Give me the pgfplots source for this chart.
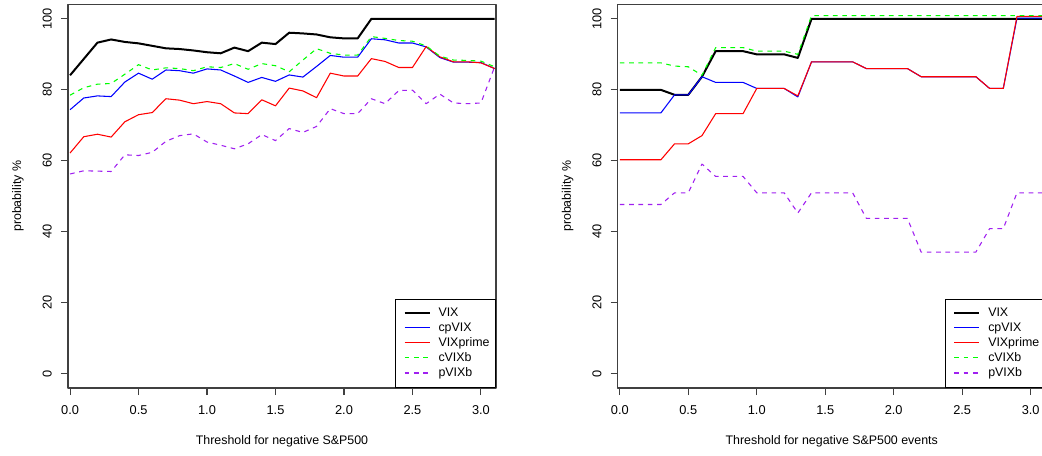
\documentclass[border=0pt]{standalone}
\usepackage{fontspec}
\setmainfont{Liberation Sans}
\usepackage{pgfplots}
\usepackage{pgfplotstable}
\pgfplotsset{compat=1.18}

\definecolor{rgreen}{RGB}{0,255,0}
\definecolor{rpurple}{RGB}{160,32,240}
\newcommand{\rfont}{\fontsize{9.3}{11}\selectfont}
\newcommand{\rtickfont}{\fontsize{9.6}{11}\selectfont}

% threshold, then the five series (probability %)
\pgfplotstableread{
x   VIX   cpVIX VIXprime cVIXb pVIXb
0.0 84.1  74.4  62.2  78.5  56.3
0.1 88.7  77.7  66.8  80.6  57.2
0.2 93.3  78.3  67.5  81.6  57.1
0.3 94.2  78.1  66.7  81.8  57.0
0.4 93.5  82.2  71.0  84.4  61.7
0.5 93.1  84.7  73.0  87.1  61.5
0.6 92.4  83.0  73.6  85.6  62.4
0.7 91.7  85.6  77.5  86.2  65.5
0.8 91.5  85.4  77.1  86.0  67.1
0.9 91.1  84.7  76.1  85.4  67.6
1.0 90.6  85.9  76.7  86.5  65.3
1.1 90.3  85.6  76.1  86.3  64.4
1.2 91.9  83.9  73.5  87.4  63.4
1.3 90.9  82.1  73.3  85.8  64.8
1.4 93.3  83.5  77.2  87.4  67.4
1.5 92.9  82.4  75.5  86.8  65.7
1.6 96.1  84.2  80.5  85.1  69.1
1.7 95.9  83.6  79.7  88.4  68.0
1.8 95.6  86.6  77.8  91.6  69.7
1.9 94.8  89.7  84.7  90.3  74.7
2.0 94.5  89.2  83.9  89.8  73.3
2.1 94.5  89.2  83.9  89.8  73.3
2.2 100   94.4  88.8  95.0  77.5
2.3 100   94.1  88.0  94.5  76.1
2.4 100   93.2  86.3  93.9  79.8
2.5 100   93.2  86.3  93.7  79.9
2.6 100   92.1  92.2  92.4  76.1
2.7 100   89.1  89.3  89.5  78.8
2.8 100   87.8  87.9  88.4  76.3
2.9 100   87.8  87.9  88.3  76.1
3.0 100   87.7  87.6  88.1  76.3
3.1 100   86.0  86.0  86.5  86.5
}\leftdata

\pgfplotstableread{
x   VIX   cpVIX VIXprime cVIXb pVIXb
0.0 80.0  73.5  60.3  87.6  47.7
0.1 80.0  73.5  60.3  87.6  47.7
0.2 80.0  73.5  60.3  87.6  47.7
0.3 80.0  73.5  60.3  87.6  47.7
0.4 78.6  78.6  64.8  86.7  51.0
0.5 78.6  78.6  64.8  86.5  51.0
0.6 83.7  83.7  67.1  84.1  59.1
0.7 90.9  82.1  73.3  91.9  55.6
0.8 90.9  82.1  73.3  91.9  55.6
0.9 90.9  82.1  73.3  91.9  55.6
1.0 90.0  80.4  80.4  90.9  51.0
1.1 90.0  80.4  80.4  90.9  51.0
1.2 90.0  80.4  80.4  90.9  51.0
1.3 89.0  78.0  78.3  90.0  45.3
1.4 100   87.9  87.9  100.9 51.0
1.5 100   87.9  87.9  100.9 51.0
1.6 100   87.9  87.9  100.9 51.0
1.7 100   87.9  87.9  100.9 51.0
1.8 100   86.0  86.0  100.9 43.8
1.9 100   86.0  86.0  100.9 43.8
2.0 100   86.0  86.0  100.9 43.8
2.1 100   86.0  86.0  100.9 43.8
2.2 100   83.7  83.7  100.9 34.3
2.3 100   83.7  83.7  100.9 34.3
2.4 100   83.7  83.7  100.9 34.3
2.5 100   83.7  83.7  100.9 34.3
2.6 100   83.7  83.7  100.9 34.3
2.7 100   80.4  80.4  100.9 40.9
2.8 100   80.4  80.4  100.9 40.9
2.9 100   100.2 100.7 100.9 51.0
3.0 100   100.2 100.7 100.9 51.0
3.1 100   100.2 100.7 100.9 51.0
}\rightdata

\pgfplotsset{
  rpanel/.style={
    scale only axis, width=321pt, height=287.5pt,
    xmin=-0.015, xmax=3.11, ymin=-4, ymax=104,
    xtick={0,0.5,1,1.5,2,2.5,3}, ytick={0,20,40,60,80,100},
    x tick label style={/pgf/number format/.cd, fixed, fixed zerofill, precision=1, /tikz/.cd},
    /pgf/number format/assume math mode=true,
    tick label style={font=\rtickfont},
    label style={font=\rfont},
    tick align=outside, major tick length=5.25pt, tick pos=left,
    axis line style={black!75, line width=0.8pt},
    tick style={black!75, line width=0.8pt},
    xticklabel style={anchor=base}, xticklabel shift=14.75pt,
    yticklabel style={rotate=90, anchor=base}, yticklabel shift=7.05pt,
    xlabel style={at={(axis description cs:0.5,-0.1402)}, anchor=center},
    ylabel style={at={(axis description cs:-0.1168,0.5)}, anchor=center},
    ylabel={probability \%},
    no markers, line join=round,
    legend cell align=left,
    legend style={at={(1,0)}, anchor=south east, draw=black, line width=0.75pt,
      fill=white, font=\rfont, inner xsep=4.5pt, inner ysep=6pt,
      row sep=2.6pt, column sep=6pt,
      nodes={inner sep=0pt, text height=6.7pt, text depth=2pt, anchor=base west}},
    legend image code/.code={\path (0pt,0pt);
      \draw[##1] (1.2pt,2.9pt) -- (19.95pt,2.9pt);},
  },
  vix/.style={black, line width=1.5pt},
  cpvix/.style={blue, line width=0.8pt},
  vixprime/.style={red, line width=0.8pt},
  cvixb/.style={rgreen, line width=0.8pt, dash pattern=on 3.5pt off 3.5pt},
  pvixb/.style={rpurple, line width=0.8pt, dash pattern=on 3.5pt off 3.5pt},
}

\begin{document}
\begin{tikzpicture}
\begin{axis}[rpanel, at={(51pt,50.25pt)}, anchor=south west,
  xlabel={Threshold for negative S\&P500}]
  \addplot[vix] table[x=x, y=VIX] {\leftdata};
  \addplot[cpvix] table[x=x, y=cpVIX] {\leftdata};
  \addplot[vixprime] table[x=x, y=VIXprime] {\leftdata};
  \addplot[cvixb] table[x=x, y=cVIXb] {\leftdata};
  \addplot[pvixb] table[x=x, y=pVIXb] {\leftdata};
  \legend{VIX, cpVIX, VIXprime, cVIXb, pVIXb}
\end{axis}
\begin{axis}[rpanel, at={(463.3pt,50.25pt)}, anchor=south west,
  xlabel={Threshold for negative S\&P500 events}]
  \addplot[vix] table[x=x, y=VIX] {\rightdata};
  \addplot[cpvix] table[x=x, y=cpVIX] {\rightdata};
  \addplot[vixprime] table[x=x, y=VIXprime] {\rightdata};
  \addplot[cvixb] table[x=x, y=cVIXb] {\rightdata};
  \addplot[pvixb] table[x=x, y=pVIXb] {\rightdata};
  \legend{VIX, cpVIX, VIXprime, cVIXb, pVIXb}
\end{axis}
% the reference is cut at its right edge
\pgfresetboundingbox
\useasboundingbox (0,0) rectangle (781.5pt,341.25pt);
\end{tikzpicture}
\end{document}
